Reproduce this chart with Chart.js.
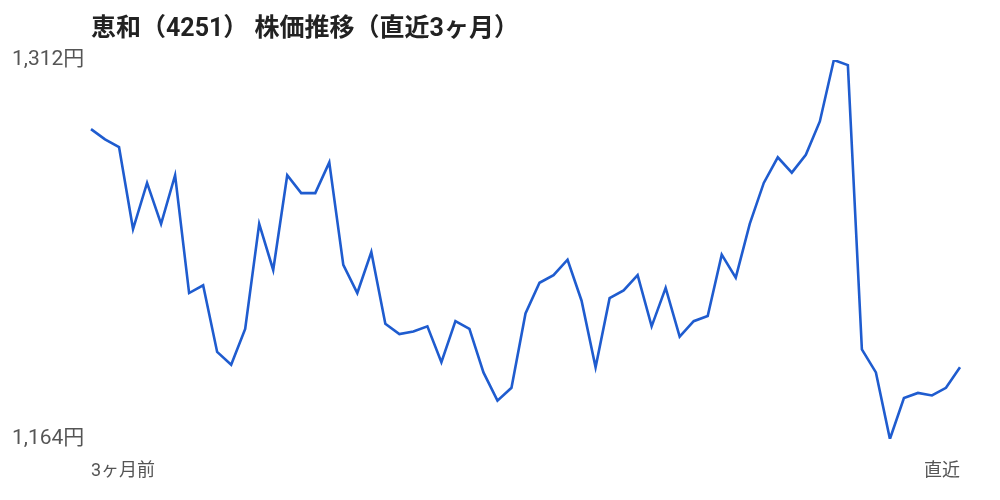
<!DOCTYPE html>
<html lang="ja">
<head>
<meta charset="utf-8">
<script src="https://cdn.jsdelivr.net/npm/chart.js@4.4.1/dist/chart.umd.min.js"></script>
<style>
  html, body { margin: 0; padding: 0; background: #fff; }
  #wrap { width: 1000px; height: 500px; }
</style>
</head>
<body>
<div id="wrap"><canvas id="stockChart"></canvas></div>
<script>
// 終値（直近3ヶ月、63営業日）
const prices = [
  1285, 1281, 1278, 1246, 1264, 1248, 1267, 1221, 1224, 1198,
  1193, 1207, 1248, 1230, 1267, 1260, 1260, 1272, 1232, 1221,
  1237, 1209, 1205, 1206, 1208, 1194, 1210, 1207, 1190, 1179,
  1184, 1213, 1225, 1228, 1234, 1218, 1192, 1219, 1222, 1228,
  1208, 1223, 1204, 1210, 1212, 1236, 1227, 1248, 1264, 1274,
  1268, 1275, 1288, 1312, 1310, 1199, 1190, 1164, 1180, 1182,
  1181, 1184, 1192
];
const startLabel = "3ヶ月前";
const endLabel = "直近";
const yTicks = [1164, 1312];
const titleText = "恵和（4251） 株価推移（直近3ヶ月）";

const labels = prices.map((p, i) => i === 0 ? startLabel : (i === prices.length - 1 ? endLabel : ""));

const fontFamily = "Roboto, 'Noto Sans CJK JP', sans-serif";

const ctx = document.getElementById("stockChart").getContext("2d");
const chart = new Chart(ctx, {
  type: "line",
  data: {
    labels: labels,
    datasets: [{
      data: prices,
      borderColor: "#1f5ccf",
      borderWidth: 2.6,
      pointRadius: 0,
      fill: false,
      tension: 0,
    }],
  },
  options: {
    responsive: true,
    maintainAspectRatio: false,
    animation: false,
    layout: { padding: { left: 12, right: 40, top: 15, bottom: 0 } },
    plugins: {
      legend: { display: false },
      tooltip: { enabled: false },
      title: {
        display: true,
        text: titleText,
        align: "start",
        fullSize: false,
        color: "#222",
        font: { family: fontFamily, size: 25, weight: "bold" },
        padding: { top: 0, bottom: 15 },
      },
    },
    scales: {
      x: {
        grid: { display: false, drawTicks: false },
        border: { display: false },
        afterFit: (scale) => { scale.height = 61; },
        ticks: {
          autoSkip: false,
          maxRotation: 0,
          align: "inner",
          padding: 22,
          color: "#555",
          font: { family: fontFamily, size: 18 },
          callback: (v, i) => labels[i],
        },
      },
      y: {
        min: yTicks[0],
        max: yTicks[1],
        grid: { display: false, drawTicks: false },
        border: { display: false },
        afterBuildTicks: (scale) => { scale.ticks = yTicks.map(v => ({ value: v })); },
        afterFit: (scale) => { scale.width = 79; },
        ticks: {
          crossAlign: "far",
          color: "#555",
          font: { family: fontFamily, size: 21 },
          callback: (v) => v.toLocaleString("ja-JP") + "円",
        },
      },
    },
  },
});
</script>
</body>
</html>
